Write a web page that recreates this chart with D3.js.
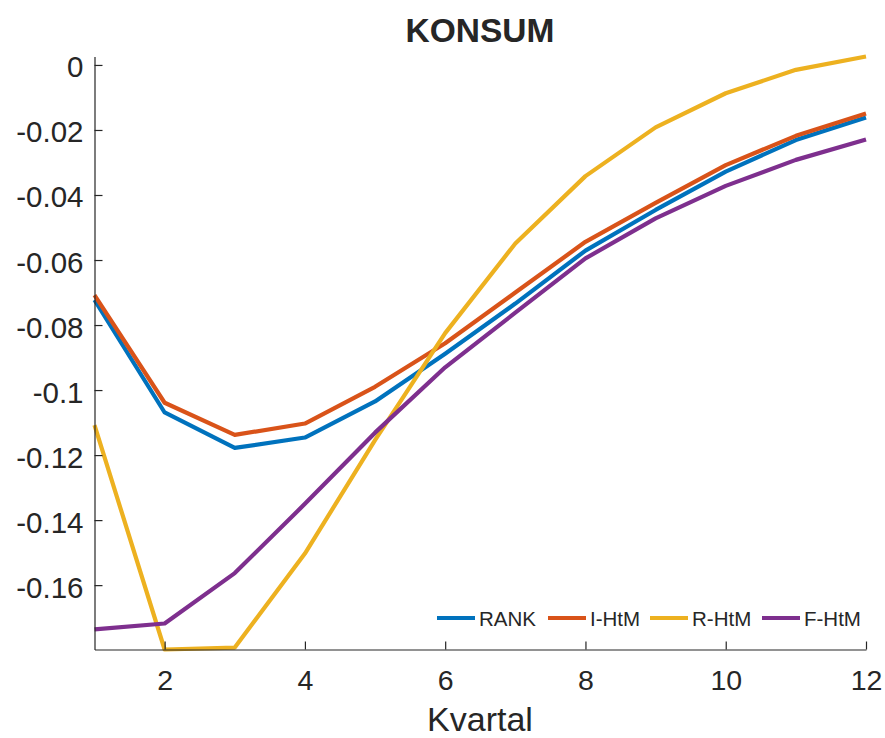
<!DOCTYPE html>
<html>
<head>
<meta charset="utf-8">
<script src="https://cdn.jsdelivr.net/npm/d3@7"></script>
<style>
  html, body { margin: 0; padding: 0; background: #fff; }
  svg text { font-family: "Liberation Sans", Arial, Helvetica, sans-serif; fill: #262626; }
</style>
</head>
<body>
<svg id="chart" width="885" height="738"></svg>
<script>
// Quarters after the shock
const quarters = [1, 2, 3, 4, 5, 6, 7, 8, 9, 10, 11, 12];

// Consumption response per model
const rank = [-0.0723, -0.1069, -0.1178, -0.1146, -0.1035, -0.0888, -0.0734, -0.0571, -0.0446, -0.0328, -0.0231, -0.0162];
const iHtm = [-0.0708, -0.1039, -0.1138, -0.1103, -0.0990, -0.0856, -0.0700, -0.0544, -0.0424, -0.0308, -0.0218, -0.0149];
const rHtm = [-0.1108, -0.1798, -0.1792, -0.1503, -0.1154, -0.0825, -0.0549, -0.0342, -0.0192, -0.0087, -0.0015, 0.0026];
const fHtm = [-0.1736, -0.1718, -0.1563, -0.1350, -0.1131, -0.0930, -0.0762, -0.0595, -0.0472, -0.0372, -0.0292, -0.0229];

const seriesNames = ["RANK", "I-HtM", "R-HtM", "F-HtM"];
const seriesValues = [rank, iHtm, rHtm, fHtm];
const seriesColors = ["#0072BD", "#D95319", "#EDB120", "#7E2F8E"];

const xTicks = [2, 4, 6, 8, 10, 12];
const yTicks = [0, -0.02, -0.04, -0.06, -0.08, -0.1, -0.12, -0.14, -0.16];

const title = "KONSUM";
const xLabel = "Kvartal";

const svg = d3.select("#chart");
const plot = { left: 94.5, right: 866, top: 56.5, bottom: 649.5 };

const x = d3.scaleLinear().domain(d3.extent(quarters)).range([plot.left, plot.right]);
const yMin = d3.min(seriesValues, s => d3.min(s));
const yMax = d3.max(seriesValues, s => d3.max(s));
const y = d3.scaleLinear().domain([yMin, yMax]).range([plot.bottom, plot.top]);

// Series lines
const line = d3.line().x((d, i) => x(quarters[i])).y(d => y(d));
const lines = svg.append("g");
seriesValues.forEach((vals, k) => {
  lines.append("path")
    .datum(vals)
    .attr("d", line)
    .attr("fill", "none")
    .attr("stroke", seriesColors[k])
    .attr("stroke-width", 4.2)
    .attr("stroke-linejoin", "round");
});

// Plain hyphen for negative numbers
const fmtY = d => d === 0 ? "0" : String(+d.toFixed(2)).replace("\u2212", "-");

// Axes with inward ticks
const tickLen = 8;
const xAxis = svg.append("g")
  .attr("transform", `translate(0,${plot.bottom})`)
  .call(d3.axisBottom(x).tickValues(xTicks).tickSize(-tickLen).tickSizeOuter(0).tickPadding(0).tickFormat(d => String(d)));
xAxis.select(".domain").attr("stroke", "#262626").attr("stroke-width", 1.2);
xAxis.selectAll(".tick line").attr("stroke", "#262626").attr("stroke-width", 1.2);
xAxis.selectAll(".tick text")
  .attr("y", 40).attr("dy", 0)
  .style("font-size", "28.5px");

const yAxis = svg.append("g")
  .attr("transform", `translate(${plot.left},0)`)
  .call(d3.axisLeft(y).tickValues(yTicks).tickSize(-tickLen).tickSizeOuter(0).tickPadding(0).tickFormat(fmtY));
yAxis.select(".domain").attr("stroke", "#262626").attr("stroke-width", 1.2);
yAxis.selectAll(".tick line").attr("stroke", "#262626").attr("stroke-width", 1.2);
yAxis.selectAll(".tick text")
  .attr("x", -11).attr("dy", 12)
  .style("font-size", "29.5px");
svg.selectAll(".tick text").attr("fill", "#262626");

// Title and axis label
svg.append("text")
  .attr("x", 480).attr("y", 42)
  .attr("text-anchor", "middle")
  .style("font-size", "33.5px").style("font-weight", "bold")
  .attr("fill", "#000")
  .text(title);

svg.append("text")
  .attr("x", 480).attr("y", 731)
  .attr("text-anchor", "middle")
  .style("font-size", "34px")
  .text(xLabel);

// Legend, one row in the lower right corner
const legendX = [437, 548, 650, 762];
const legend = svg.append("g");
seriesNames.forEach((name, k) => {
  legend.append("line")
    .attr("x1", legendX[k]).attr("x2", legendX[k] + 38)
    .attr("y1", 618).attr("y2", 618)
    .attr("stroke", seriesColors[k]).attr("stroke-width", 4);
  legend.append("text")
    .attr("x", legendX[k] + 42).attr("y", 626)
    .style("font-size", "20.5px")
    .text(name);
});
</script>
</body>
</html>
